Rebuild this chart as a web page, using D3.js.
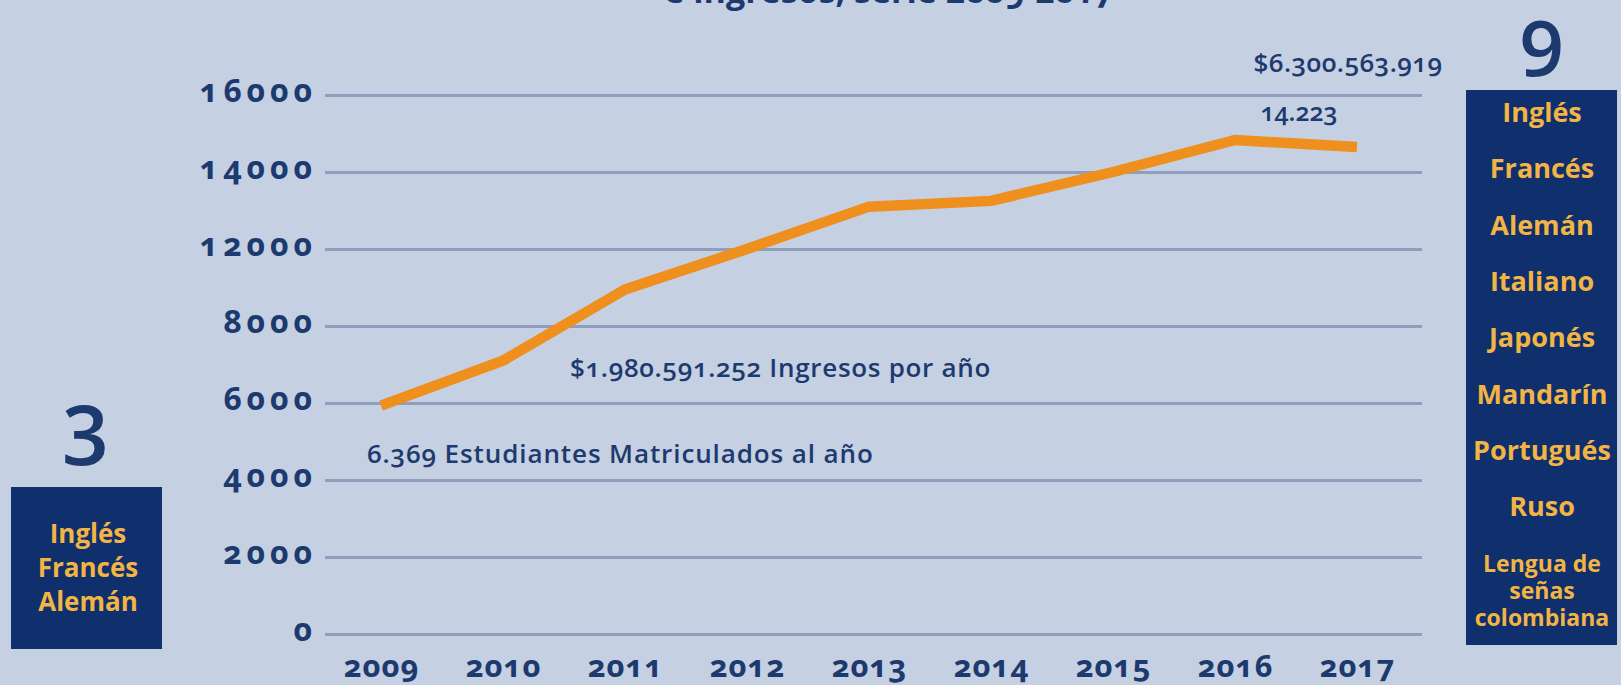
<!DOCTYPE html>
<html>
<head>
<meta charset="utf-8">
<script src="https://cdn.jsdelivr.net/npm/d3@7"></script>
<style>
  html, body { margin: 0; padding: 0; background: #c5d0e2; overflow: hidden; }
  text { font-family: "Open Sans", "Noto Sans", sans-serif; font-feature-settings: "onum"; }
</style>
</head>
<body>
<script>
var w = 1621,
    h = 685;

// datos
var years = ["2009", "2010", "2011", "2012", "2013", "2014", "2015", "2016", "2017"];
var students = [5930, 7100, 9900, 12000, 13100, 13250, 14000, 14830, 14650];
var yTicks = [0, 2000, 4000, 6000, 8000, 12000, 14000, 16000];
var leftLangs = ["Inglés", "Francés", "Alemán"];
var rightLangs = ["Inglés", "Francés", "Alemán", "Italiano", "Japonés", "Mandarín", "Portugués", "Ruso"];
var rightLangsSmall = ["Lengua de", "señas", "colombiana"];

var navy = "#1d3a6f",
    boxBlue = "#0f2f6d",
    gold = "#f2b445",
    orange = "#ef8f1d",
    gridCol = "#8e9ebc";

var svg = d3.select("body").append("svg")
    .attr("width", w)
    .attr("height", h)
    .style("background-color", "#c5d0e2");

// eje y: lineas equiespaciadas (el original salta el 10000)
var gridTop = 95, gridBottom = 634, step = (gridBottom - gridTop) / (yTicks.length - 1);
var y = d3.scaleLinear()
    .domain(yTicks)
    .range(yTicks.map(function(d, i) { return gridBottom - i * step; }));

var x = d3.scalePoint()
    .domain(years)
    .range([381, 1357]);

// titulo recortado arriba
svg.append("text")
    .text("e ingresos, serie 2009-2017")
    .attr("x", 889)
    .attr("y", 3)
    .attr("text-anchor", "middle")
    .style("font-size", "34px")
    .style("font-weight", "700")
    .style("fill", navy);

// lineas de cuadricula + etiquetas
var yAxis = d3.axisLeft(y)
    .tickValues(yTicks)
    .tickSize(-(1422 - 325))
    .tickPadding(8)
    .tickFormat(function(d) { return d; });

var gy = svg.append("g")
    .attr("transform", "translate(325,0)")
    .call(yAxis);
gy.select(".domain").remove();
gy.selectAll(".tick line")
    .style("stroke", gridCol)
    .style("stroke-width", "3px");
gy.selectAll(".tick text")
    .attr("dy", "0.2em")
    .style("font-size", "32px")
    .style("font-weight", "700")
    .style("letter-spacing", "5px")
    .style("fill", navy);

var xAxis = d3.axisBottom(x).tickSize(0).tickPadding(0);
var gx = svg.append("g")
    .attr("transform", "translate(0,677)")
    .call(xAxis);
gx.select(".domain").remove();
gx.selectAll(".tick text")
    .attr("dy", 0)
    .attr("y", 0)
    .style("font-size", "31px")
    .style("font-weight", "700")
    .style("letter-spacing", "1px")
    .style("fill", navy);

// linea de estudiantes
var line = d3.line()
    .x(function(d, i) { return x(years[i]); })
    .y(function(d) { return y(d); });

svg.append("path")
    .datum(students)
    .attr("d", line)
    .style("fill", "none")
    .style("stroke", orange)
    .style("stroke-width", "10.5px")
    .style("stroke-linejoin", "round");

// anotaciones
function note(txt, xx, yy, anchor, size, ls) {
    svg.append("text")
        .text(txt)
        .attr("x", xx)
        .attr("y", yy)
        .attr("text-anchor", anchor)
        .style("font-size", size + "px")
        .style("font-weight", "600")
        .style("letter-spacing", ls + "px")
        .style("fill", navy);
}
note("$6.300.563.919", 1348, 72, "middle", 26, 0.5);
note("14.223", 1299, 121, "middle", 25, 0);
note("$1.980.591.252 Ingresos por año", 570, 377, "start", 26, 0.7);
note("6.369 Estudiantes Matriculados al año", 367, 463, "start", 26, 0.9);

// caja izquierda
svg.append("text")
    .text("3")
    .attr("x", 86)
    .attr("y", 452)
    .attr("text-anchor", "middle")
    .style("font-size", "84px")
    .style("font-weight", "600")
    .style("fill", navy);

svg.append("rect")
    .attr("x", 11).attr("y", 487)
    .attr("width", 151).attr("height", 162)
    .style("fill", boxBlue);

svg.selectAll("text.leftLang").data(leftLangs).enter().append("text")
    .attr("class", "leftLang")
    .text(function(d) { return d; })
    .attr("x", 88)
    .attr("y", function(d, i) { return 543 + i * 34; })
    .attr("text-anchor", "middle")
    .style("font-size", "26px")
    .style("font-weight", "700")
    .style("fill", gold);

// caja derecha
svg.append("text")
    .text("9")
    .attr("x", 1542)
    .attr("y", 64)
    .attr("text-anchor", "middle")
    .style("font-size", "78px")
    .style("font-weight", "600")
    .style("fill", navy);

svg.append("rect")
    .attr("x", 1466).attr("y", 90)
    .attr("width", 151).attr("height", 555)
    .style("fill", boxBlue);

svg.selectAll("text.rightLang").data(rightLangs).enter().append("text")
    .attr("class", "rightLang")
    .text(function(d) { return d; })
    .attr("x", 1542)
    .attr("y", function(d, i) { return 122 + i * 56.3; })
    .attr("text-anchor", "middle")
    .style("font-size", "27px")
    .style("font-weight", "700")
    .style("fill", gold);

svg.selectAll("text.rightSmall").data(rightLangsSmall).enter().append("text")
    .attr("class", "rightSmall")
    .text(function(d) { return d; })
    .attr("x", 1542)
    .attr("y", function(d, i) { return 572 + i * 27; })
    .attr("text-anchor", "middle")
    .style("font-size", "23px")
    .style("font-weight", "700")
    .style("fill", gold);
</script>
</body>
</html>
